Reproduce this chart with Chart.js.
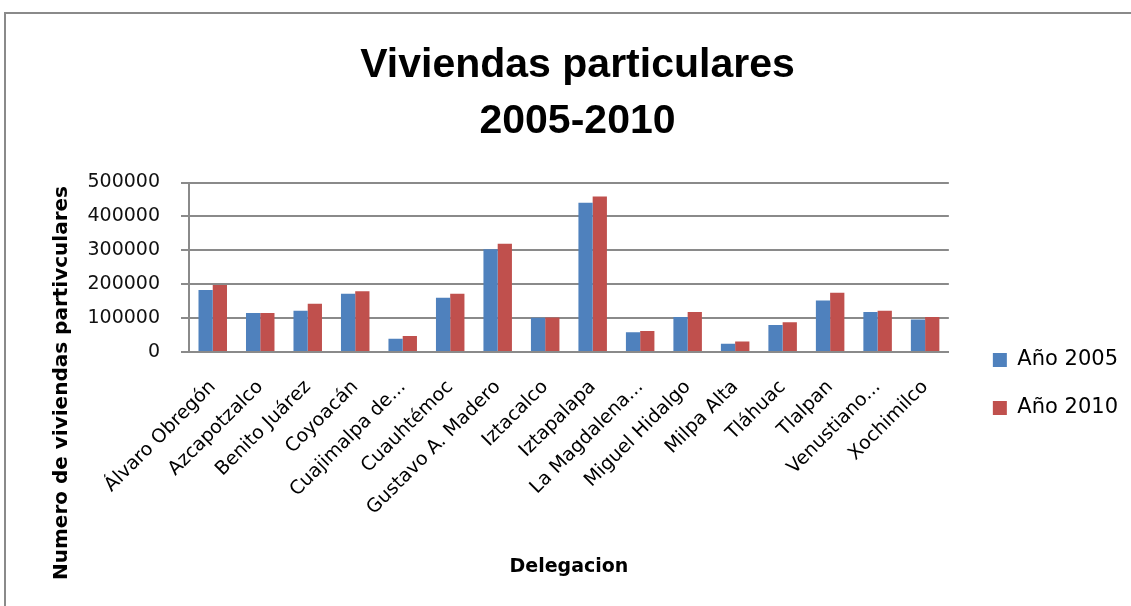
<!DOCTYPE html>
<html>
<head>
<meta charset="utf-8">
<script src="https://cdn.jsdelivr.net/npm/chart.js@4.4.1/dist/chart.umd.min.js"></script>
<style>
  html, body { margin: 0; padding: 0; background: #fff; overflow: hidden; }
  #frame { position: absolute; left: 4px; top: 12px; width: 1200px; height: 700px; border: 2px solid #8a8a8a; }
  #wrap { position: absolute; left: 0; top: 0; width: 1131px; height: 606px; }
</style>
</head>
<body>
<div id="frame"></div>
<div id="wrap"><canvas id="viviendasChart" width="1131" height="606"></canvas></div>
<script>
// datos de viviendas por delegación
const delegaciones = ['Álvaro Obregón', 'Azcapotzalco', 'Benito Juárez', 'Coyoacán', 'Cuajimalpa de...',
  'Cuauhtémoc', 'Gustavo A. Madero', 'Iztacalco', 'Iztapalapa', 'La Magdalena...', 'Miguel Hidalgo',
  'Milpa Alta', 'Tláhuac', 'Tlalpan', 'Venustiano...', 'Xochimilco'];
const anio2005 = [183000, 115000, 122000, 172000, 39000, 160000, 303000, 101000, 440000, 58000, 103000, 24000, 80000, 152000, 118000, 96000];
const anio2010 = [198000, 115000, 142000, 179000, 47000, 172000, 319000, 102000, 459000, 62000, 118000, 31000, 88000, 175000, 122000, 103000];
const yTicks = [0, 100000, 200000, 300000, 400000, 500000];

const gris = '#8a8a8a';

// título del eje Y dibujado a mano (Excel lo centra en toda el área)
const yTitlePlugin = {
  id: 'yTitle',
  afterDraw(chart) {
    const c = chart.ctx;
    c.save();
    c.translate(62, 383);
    c.rotate(-Math.PI / 2);
    c.font = 'bold 20px "DejaVu Sans"';
    c.fillStyle = '#000';
    c.textAlign = 'center';
    c.textBaseline = 'middle';
    c.fillText('Numero de viviendas partivculares', 0, 0);
    c.restore();
  }
};

// mover leyenda y título como en el original
const layoutShift = {
  id: 'layoutShift',
  afterLayout(chart) {
    const lg = chart.legend;
    lg.left += 17; lg.right += 17;
    lg.top += 91; lg.bottom += 91;
    const t = chart.titleBlock;
    t.left += 22; t.right += 22;
  }
};

const ctx = document.getElementById('viviendasChart').getContext('2d');

new Chart(ctx, {
  type: 'bar',
  data: {
    labels: delegaciones,
    datasets: [
      { label: 'Año 2005', data: anio2005, backgroundColor: '#4F81BD' },
      { label: 'Año 2010', data: anio2010, backgroundColor: '#C0504D' }
    ]
  },
  options: {
    responsive: false,
    animation: false,
    layout: { padding: { left: 0, right: 20, top: 0, bottom: 20 } },
    datasets: { bar: { categoryPercentage: 0.6, barPercentage: 1.0 } },
    plugins: {
      title: {
        display: true,
        text: ['Viviendas particulares', '2005-2010'],
        color: '#000',
        font: { family: '"Liberation Sans"', size: 41, weight: 'bold', lineHeight: 1.36 },
        padding: { top: 38, bottom: 33 }
      },
      legend: {
        position: 'right',
        labels: {
          color: '#000',
          boxWidth: 14,
          boxHeight: 14,
          padding: 27,
          font: { family: '"DejaVu Sans"', size: 21 }
        }
      },
      tooltip: { enabled: false }
    },
    scales: {
      x: {
        grid: { display: false },
        border: { display: true, color: gris, width: 2 },
        ticks: {
          color: '#000',
          autoSkip: false,
          minRotation: 45,
          maxRotation: 45,
          padding: 16,
          font: { family: '"DejaVu Sans"', size: 19 }
        },
        title: {
          display: true,
          text: 'Delegacion',
          color: '#000',
          font: { family: '"DejaVu Sans"', size: 19, weight: 'bold' },
          padding: { top: 4, bottom: 8 }
        },
        afterFit(scale) { scale.height = 234; }
      },
      y: {
        min: 0,
        max: 500000,
        afterBuildTicks(scale) { scale.ticks = yTicks.map(v => ({ value: v })); },
        grid: { color: gris, lineWidth: 2, tickLength: 8 },
        border: { display: true, color: gris, width: 2 },
        ticks: {
          color: '#111',
          padding: 21,
          font: { family: '"DejaVu Sans"', size: 19 },
          callback: v => String(v)
        },
        afterFit(scale) { scale.width = 189; }
      }
    }
  },
  plugins: [yTitlePlugin, layoutShift]
});
</script>
</body>
</html>
